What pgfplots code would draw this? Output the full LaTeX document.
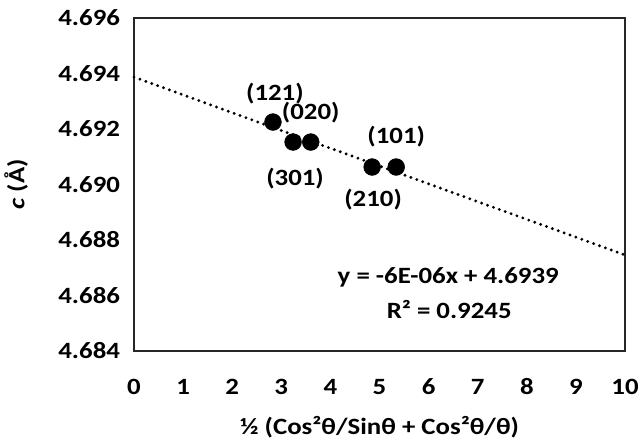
\documentclass[border=0pt]{standalone}
\usepackage{pgfplots}
\pgfplotsset{compat=1.18}
\usepackage{fontspec}
\setmainfont{Carlito}[FakeStretch=1.15]

\begin{document}
\begin{tikzpicture}
% picture frame = 640x441 px at 0.75pt per px
\useasboundingbox (-100.5pt,-67.5pt) rectangle (379.5pt,263.25pt);
\begin{axis}[
    scale only axis,
    width=368.25pt, height=249.75pt,
    xmin=0, xmax=10, ymin=4.684, ymax=4.696,
    xtick={0,1,...,10},
    ytick={4.684,4.686,4.688,4.690,4.692,4.694,4.696},
    /pgf/number format/assume math mode=true,
    major tick length=0pt,
    axis line style={black!85, line width=1.3pt},
    font=\fontsize{17.5}{20}\selectfont\bfseries,
    xticklabel style={anchor=center, yshift=-27pt},
    yticklabel style={anchor=east, xshift=-7pt,
        /pgf/number format/fixed, /pgf/number format/fixed zerofill,
        /pgf/number format/precision=3},
    xlabel={½ (Cos²θ/Sinθ + Cos²θ/θ)},
    ylabel={\textit{c} (Å)},
    xlabel style={at={(axis description cs:0.5,0)}, anchor=center, yshift=-57pt},
    ylabel style={at={(axis description cs:-0.240,0.5)}, anchor=center},
    clip=false,
]
% linear trend line
\addplot[black, line width=2.4pt, line cap=round, dash pattern=on 0pt off 4.7pt]
    coordinates {(0,4.69387) (10,4.68746)};
% measured points
\addplot[only marks, mark=*, mark size=6.3pt, black] coordinates {
(2.83,4.69225) (3.24,4.69153) (3.60,4.69153) (4.85,4.69063) (5.34,4.69063)};

\begin{scope}[every node/.style={inner sep=0pt}]
\node at (axis cs:2.87,4.69328) {(121)};
\node at (axis cs:3.60,4.69258) {(020)};
\node at (axis cs:3.28,4.69023) {(301)};
\node at (axis cs:5.34,4.69171) {(101)};
\node at (axis cs:4.87,4.68944) {(210)};
\node at (axis cs:6.40,4.68667) {y = -6E-06x + 4.6939};
\node at (axis cs:6.42,4.68548) {R² = 0.9245};
\end{scope}
\end{axis}
\end{tikzpicture}
\end{document}
